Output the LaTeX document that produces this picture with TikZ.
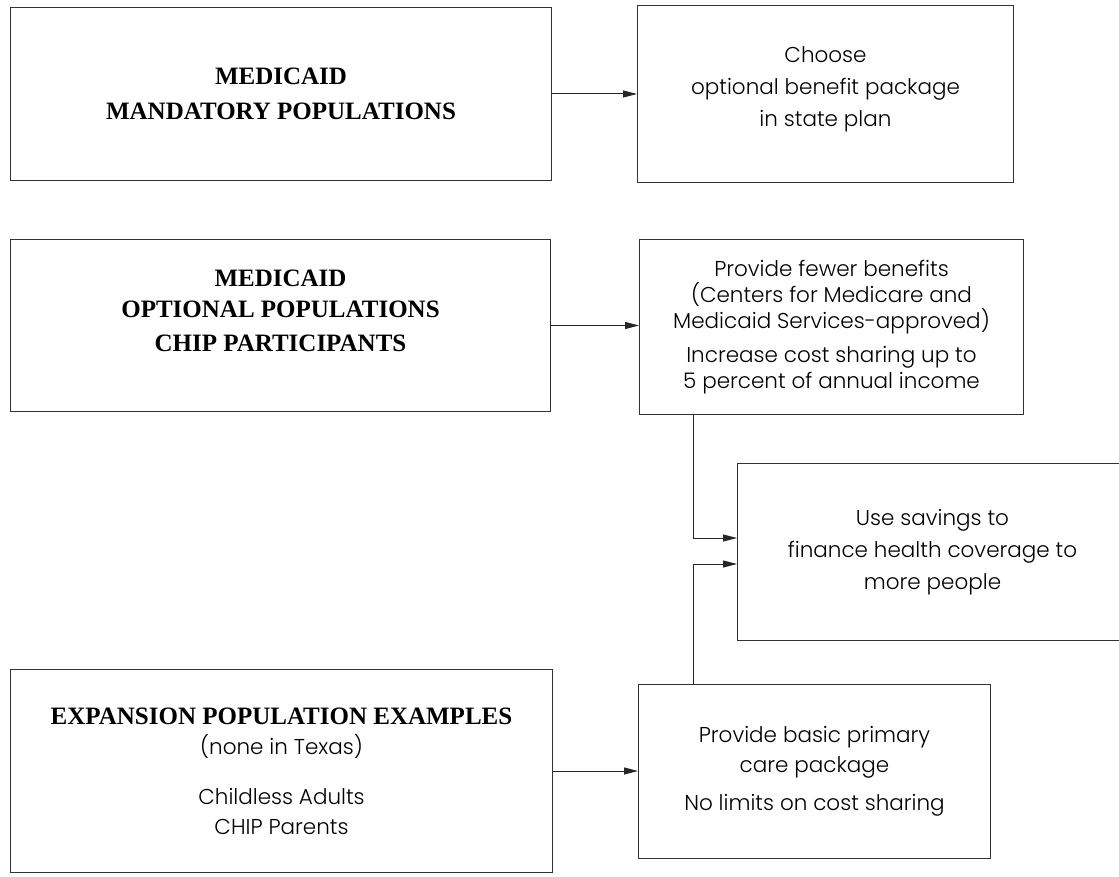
\documentclass[tikz,border=0pt]{standalone}
\usepackage{fontspec}
\setmainfont{Liberation Serif}
\IfFontExistsTF{Poppins Light}{\newfontfamily\plainfont{Poppins Light}}{\newfontfamily\plainfont{Poppins}}
\usepackage{tikz}
\usetikzlibrary{arrows.meta, positioning, calc}

\begin{document}
\begin{tikzpicture}[
    x=1pt, y=-1pt,
    popbox/.style={rectangle, draw=black!80, line width=1pt, align=center, anchor=north west, inner sep=0pt, font=\fontsize{25}{35}\selectfont\bfseries},
    planbox/.style={rectangle, draw=black!80, line width=1pt, align=center, anchor=north west, inner sep=0pt, font=\plainfont\fontsize{21.5}{32}\selectfont},
    arrow/.style={-{Triangle[length=14pt, width=7pt]}, line width=1pt, draw=black!85}
]
\useasboundingbox (0,0) rectangle (1119,877);
\node (mandatory) [popbox, minimum width=541pt, minimum height=173pt] at (10,7) {MEDICAID\\ MANDATORY POPULATIONS};
\node (choose) [planbox, minimum width=376pt, minimum height=177pt, font=\plainfont\fontsize{21.5}{32}\selectfont, text depth=14pt] at (637,5) {Choose\\ optional benefit package\\ in state plan};
\node (optional) [popbox, minimum width=540pt, minimum height=172pt, font=\fontsize{25}{31}\selectfont\bfseries, text depth=30pt] at (10,239) {MEDICAID\\ OPTIONAL POPULATIONS\\[3pt] CHIP PARTICIPANTS};
\node (fewer) [planbox, minimum width=384pt, minimum height=175pt, font=\plainfont\fontsize{21.5}{26}\selectfont] at (639,239) {Provide fewer benefits\\ (Centers for Medicare and\\ Medicaid Services-approved)\\[8pt] Increase cost sharing up to\\ 5 percent of annual income};
\node (savings) [planbox, minimum width=390pt, minimum height=177pt] at (737,463) {Use savings to\\ finance health coverage to\\ more people};
\node (expansion) [popbox, minimum width=542pt, minimum height=203pt, font=\plainfont\fontsize{21.5}{30}\selectfont] at (10,669) {{\rmfamily\bfseries\fontsize{25}{28}\selectfont EXPANSION POPULATION EXAMPLES}\\ (none in Texas)\\[20pt] Childless Adults\\ CHIP Parents};
\node (basic) [planbox, minimum width=352pt, minimum height=174pt, font=\plainfont\fontsize{21.5}{30}\selectfont] at (638,684) {Provide basic primary\\ care package\\[8pt] No limits on cost sharing};
\draw [arrow] (mandatory) -- (choose);
\draw [arrow] (optional) -- (optional -| fewer.west);
\draw [arrow] (expansion) -- (expansion -| basic.west);
\draw [arrow] ([xshift=54pt]fewer.south west) |- ([yshift=14pt]savings.west);
\draw [arrow] ([xshift=55pt]basic.north west) |- ([yshift=-12pt]savings.west);
\end{tikzpicture}
\end{document}
